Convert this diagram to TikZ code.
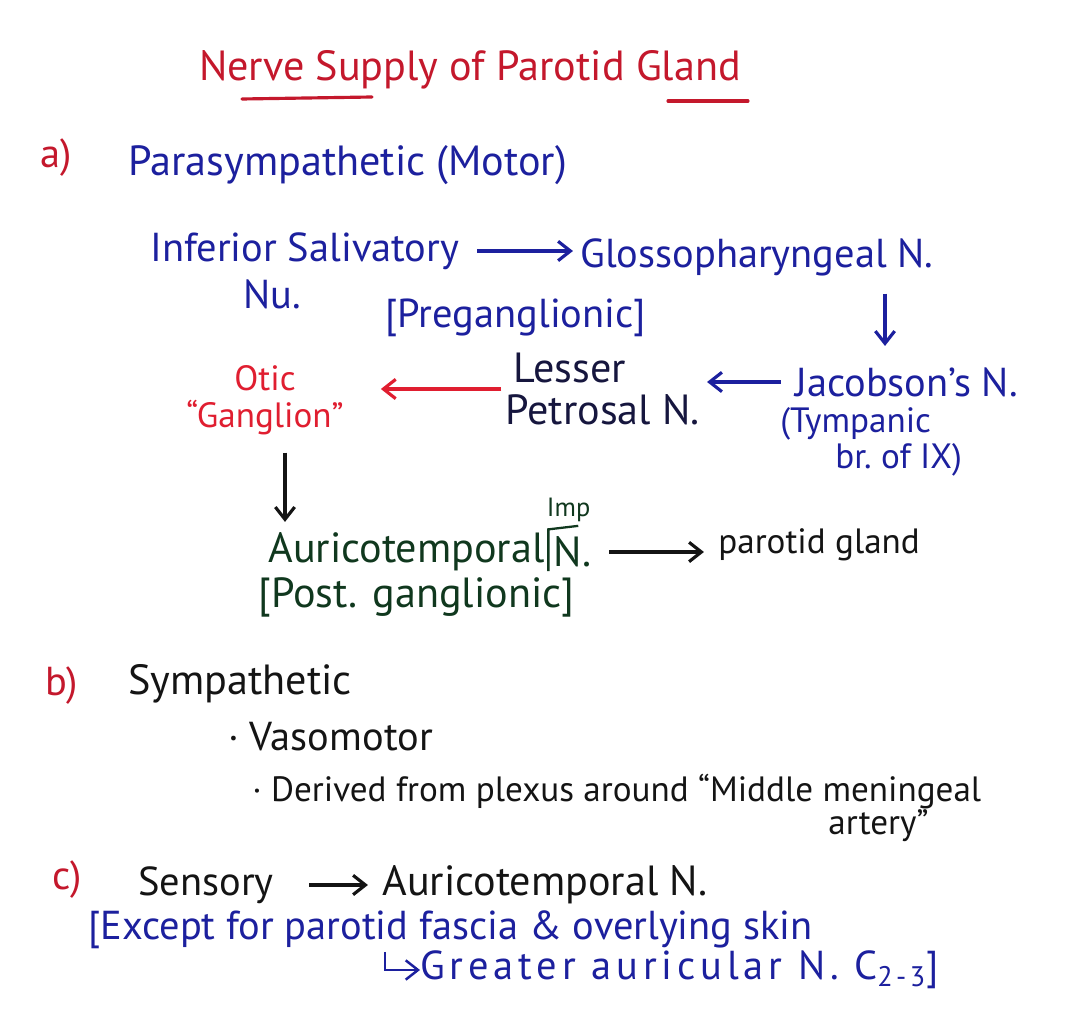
\documentclass[tikz,border=0pt]{standalone}
\usepackage{fontspec}
\setmainfont{PT Sans}
\usepackage{xcolor}
\usetikzlibrary{arrows.meta, positioning, calc}
\definecolor{myred}{RGB}{196,24,44}
\definecolor{myotic}{RGB}{224,30,48}
\definecolor{myblue}{RGB}{28,32,158}
\definecolor{mynavy}{RGB}{22,22,62}
\definecolor{mygreen}{RGB}{16,56,30}
\definecolor{mydark}{RGB}{20,20,20}
\tikzset{
  note/.style={anchor=west, inner sep=0pt, align=left,
    font=\fontsize{23}{28}\selectfont},
  bignote/.style={note, font=\fontsize{24}{29}\selectfont},
  smallnote/.style={note, font=\fontsize{20}{25}\selectfont},
  bluenote/.style={note, text=myblue},
  rednote/.style={note, text=myred},
  darknote/.style={note, text=mydark},
  greennote/.style={bignote, text=mygreen},
  arrow/.style={-{Straight Barb[length=7pt,width=11pt]}, line width=1.8pt},
  uline/.style={myred, line width=1.8pt, line cap=round}
}

\begin{document}
\begin{tikzpicture}[x=0.02cm, y=-0.02cm]
  \useasboundingbox[fill=white] (0,0) rectangle (1080,1020);

  % Title
  \node[note, anchor=center, text=myred, font=\fontsize{24}{28}\selectfont] (title) at (470,70) {Nerve Supply of Parotid Gland};
  \draw[uline] (242,99) -- (372,97);
  \draw[uline] (668,101) -- (748,101);

  % a) Parasympathetic
  \node[rednote] (parta) at (40,158) {a)};
  \node[bignote, text=myblue] (para) at (128,165) {Parasympathetic (Motor)};

  \node[bluenote] (isn) at (150,251) {Inferior Salivatory};
  \node[bluenote] (nu) at (243,294) {Nu.};
  \node[bluenote] (gpn) at (580,257) {Glossopharyngeal N.};
  \node[bluenote] (pre) at (385,318) {[Preganglionic]};
  \node[bluenote] (jac) at (795,382) {Jacobson's N.};
  \node[smallnote, text=myblue] (tymp) at (780,424) {(Tympanic};
  \node[smallnote, text=myblue] (tympbr) at (835,460) {br.\ of IX)};
  \node[bignote, text=mynavy] (lpn) at (505,389) {\hspace*{0.2em}Lesser\\[-5pt]Petrosal N.};
  \node[smallnote, anchor=center, align=center, text=myotic] (otic) at (265,400) {Otic\\[-4pt]``Ganglion''};

  \coordinate (gdown) at (885,0);
  \coordinate (odown) at (285,0);
  \draw[arrow, myblue, shorten <=10pt, shorten >=4pt] (isn.east) -- (isn.east -| gpn.west);
  \draw[arrow, myblue, shorten <=10pt, shorten >=12pt] (gpn.south -| gdown) -- (gdown |- jac.north);
  \draw[arrow, myblue, shorten <=8pt, shorten >=4pt] (jac.west) -- (jac.west -| lpn.east);
  \draw[arrow, myotic, shorten <=2pt, shorten >=21pt] (lpn.west) -- (lpn.west -| otic.east);

  \node[greennote] (ate) at (268,552) {Auricotemporal};
  \node[greennote, right=5pt of ate] (aten) {N.};
  \node[greennote] (post) at (258,597) {[Post. ganglionic]};
  \node[note, anchor=south west, text=mygreen, font=\fontsize{15}{17}\selectfont] (imp) at ([xshift=-4pt, yshift=8pt]aten.north west) {Imp};
  \draw[mygreen, line width=1.3pt] ([xshift=-3pt, yshift=-2pt]aten.south west) -- ([xshift=-3pt, yshift=4pt]aten.north west) -- ([xshift=14pt, yshift=6pt]aten.north west);
  \node[smallnote, text=mydark] (pgl) at (718,545) {parotid gland};

  \draw[arrow, mydark, shorten <=10pt, shorten >=6pt] (otic.south -| odown) -- (odown |- ate.north);
  \draw[arrow, mydark, shorten <=10pt, shorten >=8pt] (aten.east) -- (aten.east -| pgl.west);

  % b) Sympathetic
  \node[rednote] (partb) at (45,686) {b)};
  \node[bignote, text=mydark] (symp) at (128,684) {Sympathetic};
  \node[darknote] (vaso) at (228,737) {· Vasomotor};
  \node[smallnote, text=mydark] (deri) at (252,792) {· Derived from plexus around ``Middle meningeal};
  \node[smallnote, text=mydark] (art) at (828,826) {artery''};

  % c) Sensory
  \node[rednote] (partc) at (52,880) {c)};
  \node[darknote] (sens) at (138,885) {Sensory};
  \node[bignote, text=mydark] (atn) at (382,885) {Auricotemporal N.};
  \draw[arrow, mydark, shorten <=20pt, shorten >=8pt] (sens.east) -- (atn.west);
  \node[bluenote] (exc) at (88,930) {[Except for parotid fascia \& overlying skin};
  \node[bluenote, font=\fontsize{23}{28}\selectfont\addfontfeature{LetterSpace=12}] (gan) at (420,970) {Greater auricular N. C\textsubscript{2-3}]};
  \coordinate (hook) at (385,952);
  \draw[arrow, myblue, line width=1.4pt] (hook) |- (gan.west);
\end{tikzpicture}
\end{document}
